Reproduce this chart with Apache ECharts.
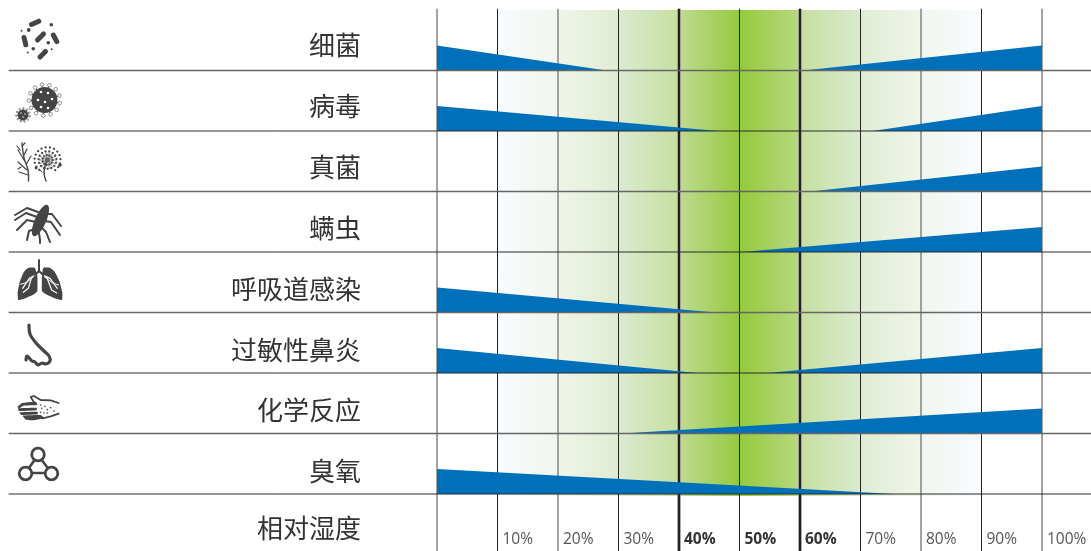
<!DOCTYPE html>
<html><head><meta charset="utf-8">
<style>html,body{margin:0;padding:0;background:#fff}#c{width:1091px;height:551px}</style>
<script src="https://cdn.jsdelivr.net/npm/echarts@6/dist/echarts.min.js"></script>
</head><body><div id="c"></div>
<script>
// Top-to-bottom rows. Humidity (%) where the left wedge ends / the right wedge starts; null = no wedge.
var categories = ['细菌','病毒','真菌','螨虫','呼吸道感染','过敏性鼻炎','化学反应','臭氧'];
var axisTitle = '相对湿度';
var leftEnd    = [28,   46.5, null, null, 46,   43,   null, 75.5];
var rightStart = [60.5, 72,   61.7, 50.2, null, 54.5, 30.5, null];
var tickLabels = ['', '10%','20%','30%','40%','50%','60%','70%','80%','90%','100%'];
var boldTicks  = ['40%','50%','60%'];
var ticks      = [0,10,20,30,40,50,60,70,80,90,100];

var WEDGE = 25/60.5, N = categories.length, XL = -70.8, XR = 108.1;
var INK = '#454545';
function baseOf(i){ return N-1-i; }

var wedgeData = [];
categories.forEach(function(c,i){
  if(leftEnd[i]!==null) wedgeData.push([0, leftEnd[i], baseOf(i), 0]);
  if(rightStart[i]!==null) wedgeData.push([rightStart[i], 100, baseOf(i), 1]);
});
var labelData = categories.map(function(c,i){ return [c, baseOf(i)+0.415-0.006*i]; });
labelData.push([axisTitle, -0.56]);

var g = [];
function bar(x1,y1,x2,y2,w,col){ g.push({type:'line',shape:{x1:x1,y1:y1,x2:x2,y2:y2},style:{stroke:col||INK,lineWidth:w,lineCap:'round'},silent:true}); }
function dot(x,y,r,col){ g.push({type:'circle',shape:{cx:x,cy:y,r:r},style:{fill:col||INK},silent:true}); }
function ring(x,y,r,w,col,fill){ g.push({type:'circle',shape:{cx:x,cy:y,r:r},style:{fill:fill||'#fff',stroke:col||INK,lineWidth:w},silent:true}); }
function poly(p,sm,col){ g.push({type:'polygon',shape:{points:p,smooth:sm||0},style:{fill:col||INK},silent:true}); }
function pl(p,w,sm,col){ g.push({type:'polyline',shape:{points:p,smooth:sm||0},style:{stroke:col||INK,lineWidth:w,fill:null,lineCap:'round',lineJoin:'round'},silent:true}); }

// bacteria
bar(31.5,24.5,38.8,21.2,5); bar(24,37.5,25.8,44.8,5); bar(37.5,40,43.5,34,5); bar(53.3,35,56.8,41.6,5); bar(40,57,45.5,51.5,5);
[[28.7,30,1.9],[51.3,24.7,1.8],[33.3,48.7,1.8],[48.3,42.7,1.8],[21.5,30.7,1],[27.7,52.5,1],[51.7,49.3,1]].forEach(function(d){dot(d[0],d[1],d[2]);});
// virus
function virus(cx,cy,r,sp,br,n,col){
  for(var k=0;k<n;k++){var a=k/n*Math.PI*2+.2,x=cx+Math.cos(a)*(r+sp),y=cy+Math.sin(a)*(r+sp);
    bar(cx+Math.cos(a)*r,cy+Math.sin(a)*r,x,y,1,INK); ring(x,y,br,.7,'#666');}
  dot(cx,cy,r);
}
virus(44.5,100,13,2.6,1.8,13);
[[41,92],[48,93],[38,100],[45,102],[52,99],[41,107],[48,108]].forEach(function(d){dot(d[0],d[1],1.3,'#fff');});
virus(23,115,5.4,1.3,.8,11);
[[21,113],[25,114],[23,117]].forEach(function(d){dot(d[0],d[1],.7,'#fff');});
// fungi
pl([[28.5,181],[28,170],[24,158],[22,143]],1.4,.4);
pl([[24,155],[27,149]],1.2); pl([[24,160],[18,150]],1.2); pl([[26.5,164],[31,156]],1.2); pl([[27,170],[18,162]],1.2); pl([[28,175],[19,172]],1.2); pl([[21,167],[18,169]],1.2); pl([[20,150],[17,146]],1.2); pl([[22,146],[25,143]],1.2);
pl([[46,181],[44,172],[47,160]],1.4,.4); pl([[42,172],[39,169]],1);
dot(47.5,160,2.4);
for(var k=0;k<14;k++){var a=k/14*Math.PI*2;bar(47.5,160,47.5+Math.cos(a)*9,160+Math.sin(a)*9,.7,'#666');}
for(var rr=0;rr<3;rr++){for(var k=0;k<11+rr*4;k++){var a=k/(11+rr*4)*Math.PI*2+rr*.3;
  if(rr===2&&Math.sin(a)>.85)continue;
  dot(47.5+Math.cos(a)*(5+rr*4),160+Math.sin(a)*(5+rr*4)*.98,1.15);}}
dot(60,165,1.8); dot(36,168,1.4);
// mite
[[[38,212],[27,208],[15,215]],[[37,217],[26,213],[15,220]],[[36,222],[27,220],[17,230]],[[35,229],[29,231],[27,240]],
 [[46,214],[52,214],[61,226]],[[45,221],[51,222],[60,235]],[[42,228],[46,232],[50,242]],[[39,233],[40,240],[40,243]]].forEach(function(l){pl(l,2);});
g.push({type:'ellipse',shape:{cx:40.5,cy:220.5,rx:5.6,ry:17},rotation:-0.42,originX:40.5,originY:220.5,style:{fill:INK},silent:true});
// lungs
var LY=255;function L(a){return a.map(function(p){return [10+p[0]/3,LY+p[1]/3];});}
poly(L([[74,38],[55,38],[42,50],[30,78],[23,112],[25,135],[50,128],[72,118],[82,108],[82,62]]),.12);
poly(L([[100,38],[120,38],[134,50],[148,78],[157,112],[156,135],[130,128],[108,118],[96,108],[96,62]]),.12);
pl(L([[87,50],[72,62],[58,70],[38,100]]),1.2,0,'#fff'); pl(L([[87,50],[102,62],[120,70],[142,100]]),1.2,0,'#fff');
pl(L([[64,70],[55,100],[40,112]]),1.2,0,'#fff'); pl(L([[110,66],[125,105],[140,114]]),1.2,0,'#fff');
pl(L([[70,66],[50,82],[32,88]]),1,0,'#fff'); pl(L([[104,66],[128,84],[146,90]]),1,0,'#fff');
pl(L([[87,15],[87,48],[75,60]]),2); pl(L([[87,48],[100,60]]),2);
// nose
pl([[29,325],[30,334],[36,343],[44,351],[49,356],[50,361],[46,364],[42,363],[38,365],[35,362],[32,361],[27,356],[26,360]],3.2,.3);
// hand
LY=385;
pl(L([[72,52],[62,36],[72,33],[92,45],[122,46],[146,54]]),1.8);
pl(L([[98,100],[122,94],[146,86]]),1.8);
poly(L([[22,66],[36,54],[78,50],[82,60],[40,62],[28,70]]),.1);
poly(L([[24,70],[80,68],[80,76],[26,78]]),.1);
poly(L([[28,82],[82,80],[84,88],[34,90]]),.1);
poly(L([[38,92],[92,90],[104,100],[68,106],[48,104]]),.1);
[[95,70],[105,64],[112,74],[92,82],[102,84],[122,68],[112,84],[92,60],[132,78],[84,94]].forEach(function(p){var q=L([p])[0];dot(q[0],q[1],.8);});
// ozone triple ring
bar(38,455,25.5,473,2.6); bar(38,455,51.5,473,2.6); bar(25.5,473,51.5,473,2.6);
ring(38,454.5,6.3,2.8); ring(25.5,473.5,6.3,2.8); ring(51.5,473.5,6.3,2.8);

var opt = {
  animation:false,
  grid:{left:437,right:49,top:10,bottom:0},
  xAxis:{type:'value',min:0,max:100,interval:10,
    axisLine:{show:false},axisTick:{show:false},splitLine:{show:false},
    axisLabel:{inside:true,margin:3,align:'left',showMinLabel:true,showMaxLabel:true,hideOverlap:false,
      padding:[0,0,0,5],color:'#555',fontFamily:'Open Sans',fontSize:15.5,
      formatter:function(v){var t=tickLabels[Math.round(v/10)];return boldTicks.indexOf(t)>=0?'{b|'+t+'}':t;},
      rich:{b:{fontWeight:'bold',color:'#333',fontFamily:'Open Sans',fontSize:15.5}}}},
  yAxis:{type:'value',min:-57/60.5,max:8,show:false,splitLine:{show:false}},
  series:[
    {type:'custom',name:'背景',data:[[10,90]],clip:false,z:1,silent:true,
     renderItem:function(p,api){
       var a=api.coord([api.value(0),8]),b=api.coord([api.value(1),-0.033]);
       return {type:'rect',shape:{x:a[0],y:a[1],width:b[0]-a[0],height:b[1]-a[1]},
        style:{fill:{type:'linear',x:0,y:0,x2:1,y2:0,colorStops:[
          {offset:0,color:'#f7fbfe'},{offset:.125,color:'#f0f6ee'},{offset:.126,color:'#eff5e9'},{offset:.25,color:'#dfecd0'},
          {offset:.251,color:'#dbead0'},{offset:.375,color:'#c6df9f'},{offset:.376,color:'#bedb90'},{offset:.49,color:'#98cb45'},{offset:.5,color:'#95c93d'},
          {offset:.625,color:'#b8d880'},{offset:.626,color:'#c6df9f'},{offset:.75,color:'#dbead0'},{offset:.751,color:'#e0edd4'},{offset:.875,color:'#eff5ea'},
          {offset:.876,color:'#f0f6ef'},{offset:1,color:'#f8fcff'}]}}};
     }},
    {type:'custom',name:'湿度刻度',data:ticks,clip:false,z:2,silent:true,
     encode:{x:0},
     renderItem:function(p,api){
       var v=api.value(0),a=api.coord([v,8.02]),b=api.coord([v,-57/60.5]);
       var thick=v===40||v===60, grey=(v===0||v===20||v===80||v===100);
       var ch=[];
       if(thick)ch.push({type:'line',shape:{x1:a[0],y1:a[1],x2:b[0],y2:b[1]},style:{stroke:'#aaa',lineWidth:3.6}});
       ch.push({type:'line',shape:{x1:a[0],y1:a[1],x2:b[0],y2:b[1]},style:{stroke:thick?'#222':grey?'#8c8c8c':'#222',lineWidth:thick?2.2:grey?1.6:1}});
       return {type:'group',children:ch};
     }},
    {type:'custom',name:'风险',data:wedgeData,clip:false,z:3,silent:true,
     renderItem:function(p,api){
       var x0=api.value(0),x1=api.value(1),y=api.value(2),right=api.value(3)===1;
       var pts=right?[[x0,y],[x1,y],[x1,y+WEDGE]]:[[x0,y],[x1,y],[x0,y+WEDGE]];
       return {type:'polygon',shape:{points:pts.map(function(q){return api.coord(q);})},style:{fill:'#0070ba'}};
     }},
    {type:'custom',name:'分隔线',data:[7,6,5,4,3,2,1,0],clip:false,z:4,silent:true,
     encode:{y:0},
     renderItem:function(p,api){
       var v=api.value(0),a=api.coord([XL,v]),b=api.coord([XR,v]),grey=(v%2===1);
       return {type:'line',shape:{x1:a[0],y1:a[1],x2:b[0],y2:b[1]},
        style:{stroke:grey?'#666':'#2a2a2a',lineWidth:grey?1.6:1}};
     }},
    {type:'custom',name:'标签',data:labelData,clip:false,z:5,silent:true,
     encode:{y:1},
     renderItem:function(p,api){
       var a=api.coord([-12.55,labelData[p.dataIndex][1]]);
       return {type:'text',style:{x:a[0],y:a[1],text:labelData[p.dataIndex][0],align:'right',verticalAlign:'middle',
         font:'400 26px "Noto Sans CJK SC"',fill:'#333'}};
     }}
  ],
  graphic:g
};
echarts.init(document.getElementById('c'),null,{renderer:'canvas'}).setOption(opt);
</script></body></html>
